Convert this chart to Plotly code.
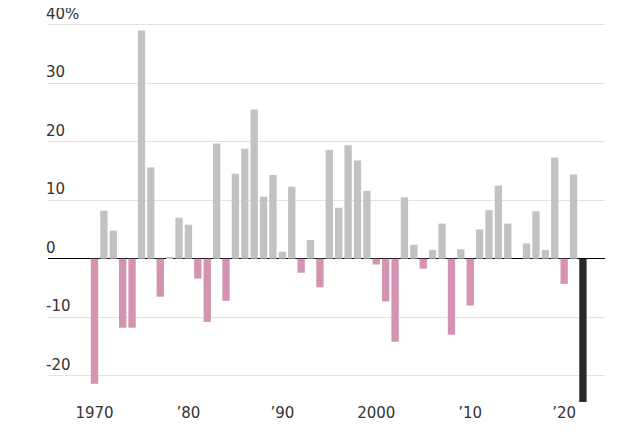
import plotly.graph_objects as go

years = list(range(1970, 2023))
returns = [
    -21.4, 8.2, 4.8, -11.8, -11.8, 39.0, 15.6, -6.5, 0.3, 7.0,
    5.8, -3.4, -10.8, 19.7, -7.2, 14.5, 18.8, 25.5, 10.6, 14.3,
    1.2, 12.3, -2.4, 3.2, -4.9, 18.6, 8.7, 19.4, 16.8, 11.6,
    -1.0, -7.3, -14.2, 10.5, 2.4, -1.7, 1.5, 6.0, -13.0, 1.6,
    -8.0, 5.0, 8.3, 12.5, 6.0, 0.0, 2.6, 8.1, 1.5, 17.3,
    -4.3, 14.4, -28.0,
]
tick_years = [1970, 1980, 1990, 2000, 2010, 2020]
tick_text = ["1970", "’80", "’90", "2000", "’10", "’20"]
grid_values = [-20, -10, 0, 10, 20, 30, 40]
grid_labels = ["-20", "-10", "0", "10", "20", "30", "40%"]

colors = []
for y, r in zip(years, returns):
    if y == 2022:
        colors.append("#2a2a2a")
    elif r < 0:
        colors.append("#d493b0")
    else:
        colors.append("#c2c2c2")

fig = go.Figure(go.Bar(x=years, y=returns, marker_color=colors, marker_line_width=0))

for v, lab in zip(grid_values, grid_labels):
    fig.add_annotation(x=0, xref="paper", y=v, yref="y", text=lab, showarrow=False,
                       xanchor="left", yanchor="bottom", xshift=-4,
                       font=dict(family="DejaVu Sans", size=15, color="#333"))

fig.update_layout(
    width=623, height=434,
    margin=dict(l=40, r=26, t=5, b=40),
    plot_bgcolor="white", paper_bgcolor="white",
    bargap=0.22, showlegend=False,
    font=dict(family="DejaVu Sans", size=15, color="#333"),
    xaxis=dict(range=[1965.05, 2024.35], tickvals=tick_years, ticktext=tick_text,
               showgrid=False, zeroline=False, ticks="", tickfont=dict(size=15)),
    yaxis=dict(range=[-24.5, 42], tickvals=grid_values, showticklabels=False,
               gridcolor="#e2e2e2", zeroline=True, zerolinecolor="#000", zerolinewidth=1),
)

fig.write_html("out.html")
